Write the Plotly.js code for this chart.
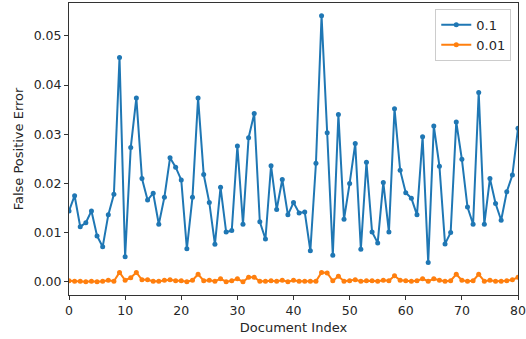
<!DOCTYPE html>
<html>
<head>
<meta charset="utf-8">
<script src="https://cdn.plot.ly/plotly-3.0.1.min.js"></script>
<style>html,body{margin:0;padding:0;background:#fff;}#chart{width:526px;height:339px;}</style>
</head>
<body>
<div id="chart"></div>
<script>
const docIndex = Array.from({length: 81}, (_, i) => i);
const fpr01 = [
  0.0144, 0.0175, 0.0112, 0.0120, 0.0144, 0.0093, 0.0071, 0.0136, 0.0178, 0.0456,
  0.0051, 0.0273, 0.0374, 0.0210, 0.0166, 0.0180, 0.0117, 0.0172, 0.0252, 0.0233,
  0.0207, 0.0067, 0.0172, 0.0374, 0.0218, 0.0161, 0.0076, 0.0192, 0.0101, 0.0104,
  0.0276, 0.0117, 0.0293, 0.0342, 0.0122, 0.0087, 0.0236, 0.0147, 0.0208, 0.0136,
  0.0161, 0.0140, 0.0142, 0.0063, 0.0241, 0.0541, 0.0303, 0.0054, 0.0340, 0.0127,
  0.0200, 0.0281, 0.0066, 0.0243, 0.0101, 0.0079, 0.0202, 0.0101, 0.0352, 0.0227,
  0.0181, 0.0170, 0.0136, 0.0295, 0.0039, 0.0317, 0.0235, 0.0077, 0.0100, 0.0325,
  0.0249, 0.0152, 0.0117, 0.0385, 0.0117, 0.0210, 0.0159, 0.0125, 0.0183, 0.0217,
  0.0312
];
const fpr001 = [
  0.0002, 0.0001, 0.0001, 0.0000, 0.0001, 0.0000, 0.0001, 0.0003, 0.0001, 0.0019,
  0.0003, 0.0008, 0.0019, 0.0004, 0.0004, 0.0001, 0.0001, 0.0003, 0.0004, 0.0002,
  0.0002, 0.0000, 0.0003, 0.0015, 0.0002, 0.0003, 0.0001, 0.0006, 0.0000, 0.0002,
  0.0006, 0.0000, 0.0009, 0.0009, 0.0001, 0.0001, 0.0002, 0.0001, 0.0003, 0.0000,
  0.0003, 0.0001, 0.0001, 0.0001, 0.0001, 0.0019, 0.0018, 0.0002, 0.0011, 0.0001,
  0.0002, 0.0004, 0.0001, 0.0002, 0.0002, 0.0001, 0.0003, 0.0002, 0.0012, 0.0003,
  0.0002, 0.0001, 0.0002, 0.0006, 0.0001, 0.0006, 0.0003, 0.0001, 0.0002, 0.0015,
  0.0003, 0.0001, 0.0002, 0.0015, 0.0001, 0.0003, 0.0001, 0.0001, 0.0002, 0.0004,
  0.0009
];
const seriesNames = ['0.1', '0.01'];
const xTicks = [0, 10, 20, 30, 40, 50, 60, 70, 80];
const yTicks = [0.00, 0.01, 0.02, 0.03, 0.04, 0.05];

const tickFont = {family: 'DejaVu Sans, sans-serif', size: 12.5, color: '#262626'};
const titleFont = {family: 'DejaVu Sans, sans-serif', size: 13, color: '#262626'};
const traces = [
  {x: docIndex, y: fpr01, name: seriesNames[0], mode: 'lines+markers',
   line: {color: '#1f77b4', width: 2}, marker: {color: '#1f77b4', size: 5}},
  {x: docIndex, y: fpr001, name: seriesNames[1], mode: 'lines+markers',
   line: {color: '#ff7f0e', width: 2}, marker: {color: '#ff7f0e', size: 5}}
];
const axisCommon = {
  showline: true, mirror: true, linecolor: '#333', linewidth: 1,
  ticks: 'outside', ticklen: 4, tickcolor: '#333', tickwidth: 1,
  showgrid: false, zeroline: false, tickfont: tickFont
};
const layout = {
  width: 526, height: 339,
  margin: {l: 69, r: 8, t: 3, b: 44},
  paper_bgcolor: '#fff', plot_bgcolor: '#fff',
  font: tickFont,
  showlegend: true,
  legend: {x: 0.985, y: 0.98, xanchor: 'right', yanchor: 'top',
           bgcolor: 'rgba(255,255,255,0.8)', bordercolor: '#ccc', borderwidth: 1,
           font: {family: 'DejaVu Sans, sans-serif', size: 13, color: '#262626'},
           tracegroupgap: 0},
  xaxis: Object.assign({}, axisCommon, {
    range: [0, 80], tickvals: xTicks, ticktext: xTicks.map(String),
    title: {text: 'Document Index', font: titleFont, standoff: 5}
  }),
  yaxis: Object.assign({}, axisCommon, {
    range: [-0.0027, 0.0567], tickvals: yTicks, ticktext: yTicks.map(v => v.toFixed(2)),
    title: {text: 'False Positive Error', font: titleFont, standoff: 7}
  })
};
Plotly.newPlot('chart', traces, layout, {displayModeBar: false, staticPlot: true});
</script>
</body>
</html>
